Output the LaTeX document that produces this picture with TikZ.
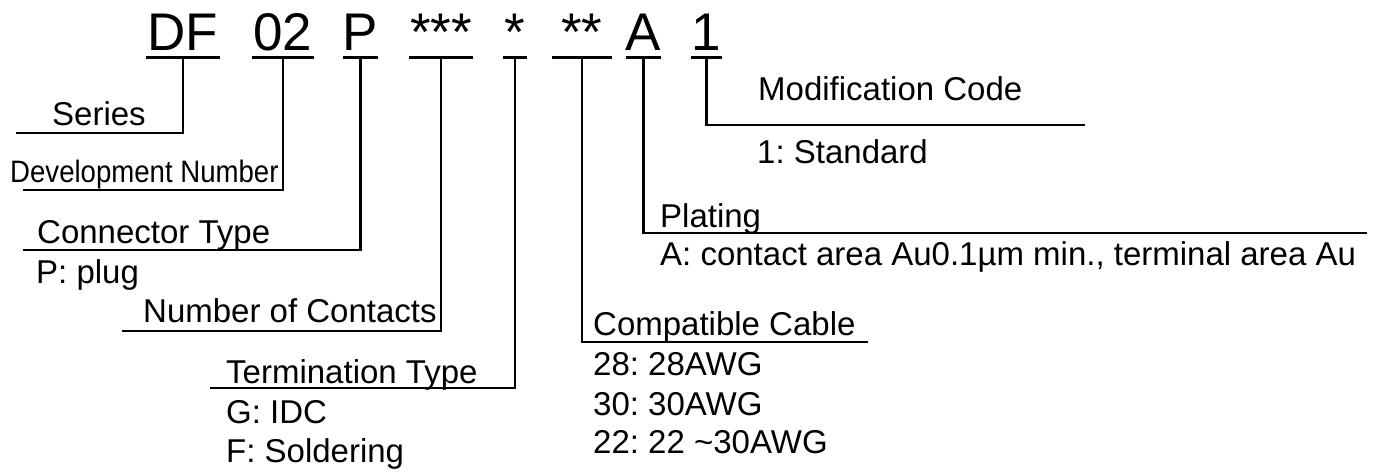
\documentclass[tikz,border=0pt]{standalone}
\usepackage{fontspec}
\setmainfont{Liberation Sans}
\usepackage{tikz}
\usetikzlibrary{calc,positioning}
\frenchspacing

\begin{document}
\begin{tikzpicture}[x=1pt,y=-1pt,
  lead/.style={line width=2.7pt},
  code/.style={font=\fontsize{53}{60}\selectfont, inner xsep=0pt, inner ysep=0pt,
    text depth=7pt, anchor=base},
  lbl/.style={font=\fontsize{33}{38}\selectfont, inner sep=0pt, anchor=base west}]
  \useasboundingbox (0,0) rectangle (1375,471);

  \node[code, minimum width=74] (cSer) at (183,50) {DF};
  \node[code, minimum width=62] (cDev) at (283,50) {02};
  \node[code, minimum width=35] (cCon) at (360.5,50) {P};
  \node[code, minimum width=64] (cNum) at (441,50) {***};
  \node[code, minimum width=24] (cTer) at (515,50) {*};
  \node[code, minimum width=59] (cCab) at (582,50) {**};
  \node[code, minimum width=33] (cPla) at (643.5,50) {A};
  \node[code, minimum width=31] (cMod) at (706.5,50) {1};
  \foreach \c in {cSer,cDev,cCon,cNum,cTer,cCab,cPla,cMod}
    \draw[lead] (\c.south west) -- (\c.south east);

  \node[lbl] (series) at (52,125) {Series};
  \coordinate (serL) at (16,133);
  \draw[lead] (cSer.south) |- (serL);

  \node[lbl] (devel) at (10,182) {\fontsize{31}{36}\selectfont\scalebox{0.89}[1]{Development Number}};
  \coordinate (devL) at (23,190);
  \draw[lead] (cDev.south) |- (devL);

  \node[lbl] (contype) at (37,243) {Connector Type};
  \node[lbl] (contypeP) at (36,283) {P: plug};
  \coordinate (conL) at (23,250);
  \draw[lead] (cCon.south) |- (conL);

  \node[lbl] (numcont) at (143,322) {Number of Contacts};
  \coordinate (numL) at (122,331);
  \draw[lead] (cNum.south) |- (numL);

  \node[lbl] (termtype) at (226,383) {Termination Type};
  \node[lbl] (termG) at (226,423) {G: IDC};
  \node[lbl] (termF) at (226,462) {F: Soldering};
  \coordinate (terL) at (210,388);
  \draw[lead] (cTer.south) |- (terL);

  \node[lbl] (cable) at (593,335) {Compatible Cable};
  \node[lbl] (cab28) at (593,375) {28: 28AWG};
  \node[lbl] (cab30) at (593,415) {30: 30AWG};
  \node[lbl] (cab22) at (593,453) {22: 22 \textasciitilde30AWG};
  \coordinate (cabR) at (868,342);
  \draw[lead] (cCab.south) |- (cabR);

  \node[lbl] (plating) at (660,227) {Plating};
  \node[lbl] (platA) at (660,265) {A: contact area Au0.1µm min., terminal area Au};
  \coordinate (plaR) at (1367,233);
  \draw[lead] (cPla.south) |- (plaR);

  \node[lbl] (modcode) at (758,100) {Modification Code};
  \node[lbl] (modStd) at (757,163) {1: Standard};
  \coordinate (modR) at (1085,125);
  \draw[lead] (cMod.south) |- (modR);
\end{tikzpicture}
\end{document}
